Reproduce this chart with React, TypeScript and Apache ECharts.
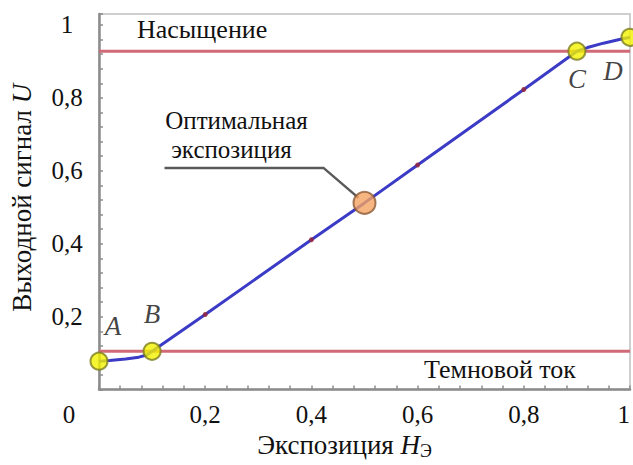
import React, { useEffect, useRef } from "react";
import * as echarts from "echarts";

// ---- data ----
const curveX = [0, 0.02, 0.05, 0.075, 0.09, 0.1, 0.2, 0.4, 0.5, 0.6, 0.8, 0.9, 0.92, 0.95, 0.98, 1.0];
const curveY = [0.078, 0.08, 0.084, 0.089, 0.095, 0.105, 0.206, 0.411, 0.512, 0.616, 0.823, 0.928, 0.938, 0.95, 0.96, 0.966];

const markerX = [0.2, 0.4, 0.6, 0.8];
const markerY = [0.206, 0.411, 0.616, 0.823];

const keyNames = ["A", "B", "C", "D"];
const keyX = [0, 0.1, 0.9, 1.0];
const keyY = [0.078, 0.105, 0.928, 0.966];

const optimalX = 0.5;
const optimalY = 0.512;

const darkLevel = 0.105;
const saturationLevel = 0.928;

const xMin = 0;
const xMax = 1;
const yMin = 0;
const yMax = 1.03;
const tickStep = 0.04;
const labelStep = 0.2;

const saturationText = "Насыщение";
const darkText = "Темновой ток";
const optimalText = ["Оптимальная", "экспозиция"];

// ---- styles ----
const FONT = "Liberation Serif";
const FS_TICK = 25;
const FS_TEXT = 26;
const FS_OPT = 25;
const FS_TITLE = 27;
const FS_PT = 27;
const labelOffsets: Record<string, [number, number]> = {
  A: [14, -35],
  B: [0, -37],
  C: [0, 28],
  D: [-17, 34],
};

const css = `#chart-root svg text, #chart-root svg tspan { font-family: "Liberation Serif", "Times New Roman", serif !important; }`;

const isMajor = (v: number) => Math.abs(v / labelStep - Math.round(v / labelStep)) < 1e-6;
const fmt = (v: number) => String(+v.toFixed(1)).replace(".", ",");

function buildChart(el: HTMLDivElement) {
  const chart = echarts.init(el, null, { renderer: "svg" });

  const axisCommon = {
    type: "value" as const,
    interval: tickStep,
    axisLine: { show: true, onZero: false, lineStyle: { color: "#8c8c8c", width: 2.5 } },
    axisTick: { show: true, inside: true, length: 4, lineStyle: { color: "#8c8c8c", width: 1.5 } },
    splitLine: { show: false },
  };

  const option: any = {
    animation: false,
    grid: {
      left: 99,
      right: 0,
      top: 14,
      bottom: 68,
      show: true,
      borderColor: "#cfcfcf",
      borderWidth: 2,
    },
    xAxis: {
      ...axisCommon,
      min: xMin,
      max: xMax,
      name: "Экспозиция {i|H}{s|Э}",
      nameLocation: "middle",
      nameGap: 36,
      nameTextStyle: {
        fontFamily: FONT,
        fontSize: FS_TITLE,
        color: "#111",
        padding: [0, 40, 0, 0],
        rich: {
          i: { fontFamily: FONT, fontSize: FS_TITLE, fontStyle: "italic", color: "#111" },
          s: { fontFamily: FONT, fontSize: 18, color: "#111", padding: [12, 0, 0, 0] },
        },
      },
      axisLabel: {
        fontFamily: FONT,
        fontSize: FS_TICK,
        color: "#111",
        margin: 12,
        alignMaxLabel: "right",
        formatter: (v: number) => {
          if (Math.abs(v) < 1e-9) return "{o|0}";
          return isMajor(v) ? fmt(v) : "";
        },
        rich: {
          o: { fontFamily: FONT, fontSize: FS_TICK, color: "#111", padding: [0, 60, 0, 0] },
        },
      },
    },
    yAxis: {
      ...axisCommon,
      min: yMin,
      max: yMax,
      name: "Выходной сигнал {i|U}",
      nameLocation: "middle",
      nameGap: 64,
      nameTextStyle: {
        fontFamily: FONT,
        fontSize: FS_TITLE,
        color: "#111",
        padding: [0, 0, 0, 8],
        rich: {
          i: { fontFamily: FONT, fontSize: FS_TITLE, fontStyle: "italic", color: "#111" },
        },
      },
      axisLabel: {
        fontFamily: FONT,
        fontSize: FS_TICK,
        color: "#111",
        align: "center",
        margin: 32,
        formatter: (v: number) => (Math.abs(v) < 1e-9 || !isMajor(v) ? "" : fmt(v)),
      },
    },
    series: [
      {
        type: "line",
        silent: true,
        data: [[xMin, darkLevel], [xMax, darkLevel]],
        symbol: "none",
        lineStyle: { color: "#cf6a76", width: 3 },
        z: 1,
      },
      {
        type: "line",
        silent: true,
        data: [[xMin, saturationLevel], [xMax, saturationLevel]],
        symbol: "none",
        lineStyle: { color: "#cf6a76", width: 3 },
        z: 1,
      },
      {
        type: "line",
        silent: true,
        data: curveX.map((x, i) => [x, curveY[i]]),
        symbol: "none",
        lineStyle: { color: "#3b3bc6", width: 3 },
        z: 3,
      },
      {
        type: "scatter",
        silent: true,
        data: markerX.map((x, i) => [x, markerY[i]]),
        symbolSize: 5,
        itemStyle: { color: "#9a2535" },
        z: 4,
      },
      {
        type: "scatter",
        silent: true,
        clip: false,
        data: [[optimalX, optimalY]],
        symbolSize: 22,
        itemStyle: { color: "#f4a262", borderColor: "#8c5a34", borderWidth: 2 },
        z: 5,
      },
      {
        type: "scatter",
        silent: true,
        clip: false,
        data: keyNames.map((n, i) => ({
          name: n,
          value: [keyX[i], keyY[i]],
          label: { offset: labelOffsets[n] },
        })),
        symbolSize: 17,
        itemStyle: { color: "#f2f200", borderColor: "#7d7d1e", borderWidth: 2 },
        label: {
          show: true,
          position: "inside",
          formatter: "{b}",
          fontFamily: FONT,
          fontSize: FS_PT,
          fontStyle: "italic",
          color: "#111",
          textBorderWidth: 0,
        },
        z: 5,
      },
    ],
  };

  chart.setOption(option);

  const pOpt = chart.convertToPixel({ gridIndex: 0 }, [optimalX, optimalY]) as number[];
  const pSat = chart.convertToPixel({ gridIndex: 0 }, [xMin, saturationLevel]) as number[];
  const pDark = chart.convertToPixel({ gridIndex: 0 }, [xMin, darkLevel]) as number[];

  chart.setOption({
    graphic: [
      {
        type: "polyline",
        z: 2,
        shape: {
          points: [
            [pOpt[0] - 200, pOpt[1] - 35],
            [pOpt[0] - 41, pOpt[1] - 35],
            [pOpt[0] - 6, pOpt[1] - 5],
          ],
        },
        style: { stroke: "#5a5a5a", lineWidth: 2.5, fill: null },
      },
      {
        type: "text",
        x: pOpt[0] - 128,
        y: pOpt[1] - 82,
        style: { text: optimalText[0], fontFamily: FONT, fontSize: FS_OPT, fill: "#111", align: "center", verticalAlign: "middle" },
      },
      {
        type: "text",
        x: pOpt[0] - 133,
        y: pOpt[1] - 53,
        style: { text: optimalText[1], fontFamily: FONT, fontSize: FS_OPT, fill: "#111", align: "center", verticalAlign: "middle" },
      },
      {
        type: "text",
        x: pSat[0] + 38,
        y: pSat[1] - 22,
        style: { text: saturationText, fontFamily: FONT, fontSize: FS_TEXT, fill: "#111", align: "left", verticalAlign: "middle" },
      },
      {
        type: "text",
        x: pDark[0] + 401,
        y: pDark[1] + 18,
        style: { text: darkText, fontFamily: FONT, fontSize: FS_TEXT, fill: "#111", align: "center", verticalAlign: "middle" },
      },
    ],
  });

  return chart;
}

export default function App() {
  const ref = useRef<HTMLDivElement>(null);

  useEffect(() => {
    if (!ref.current) return;
    const chart = buildChart(ref.current);
    return () => chart.dispose();
  }, []);

  return (
    <>
      <style>{css}</style>
      <div
        id="chart-root"
        ref={ref}
        style={{ position: "fixed", left: 0, top: 0, width: 633, height: 465, background: "#fff" }}
      />
    </>
  );
}
